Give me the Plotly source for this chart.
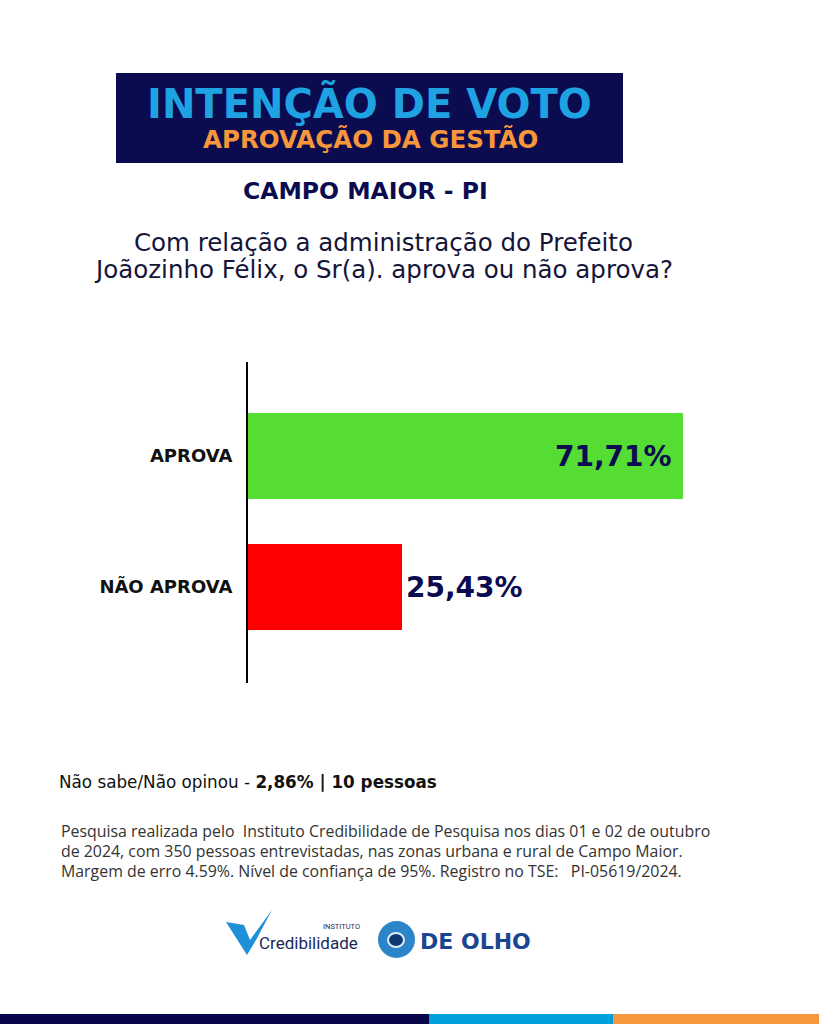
import plotly.graph_objects as go

W, H = 819, 1024

# ---- data ----
categories = ["APROVA", "NÃO APROVA"]
values = [71.71, 25.43]
value_labels = ["71,71%", "25,43%"]
bar_colors = ["#55dd33", "#ff0000"]

title_main = "INTENÇÃO DE VOTO"
title_sub = "APROVAÇÃO DA GESTÃO"
place = "CAMPO MAIOR - PI"
question = ["Com relação a administração do Prefeito", "Joãozinho Félix, o Sr(a). aprova ou não aprova?"]
no_opinion = "Não sabe/Não opinou - <b>2,86% | 10 pessoas</b>"
footer_lines = [
    "Pesquisa realizada pelo  Instituto Credibilidade de Pesquisa nos dias 01 e 02 de outubro",
    "de 2024, com 350 pessoas entrevistadas, nas zonas urbana e rural de Campo Maior.",
    "Margem de erro 4.59%. Nível de confiança de 95%. Registro no TSE:   PI-05619/2024.",
]

NAVY = "#0b0b50"
FONT = "DejaVu Sans"


def px(x):
    return x / W


def py(y):
    return 1 - y / H


fig = go.Figure()
fig.add_trace(go.Bar(
    y=categories, x=values, orientation="h",
    marker=dict(color=bar_colors, line=dict(width=0)),
    width=0.664, hoverinfo="skip",
))

annotations = []
# value labels
for cat, v, lab in zip(categories, values, value_labels):
    inside = v > 50
    annotations.append(dict(
        x=v, y=cat, xref="x", yref="y", text=f"<b>{lab}</b>", showarrow=False,
        xanchor="right" if inside else "left", xshift=-9 if inside else 2,
        font=dict(family=FONT, size=28, color=NAVY),
    ))

# title box texts
annotations += [
    dict(x=px(369), y=py(103), xref="paper", yref="paper", text=f"<b>{title_main}</b>", showarrow=False,
         font=dict(family=FONT, size=40, color="#1fa2e2"), xanchor="center", yanchor="middle"),
    dict(x=px(370), y=py(139), xref="paper", yref="paper", text=f"<b>{title_sub}</b>", showarrow=False,
         font=dict(family=FONT, size=24.5, color="#f7963a"), xanchor="center", yanchor="middle"),
    dict(x=px(365), y=py(191), xref="paper", yref="paper", text=f"<b>{place}</b>", showarrow=False,
         font=dict(family=FONT, size=23.5, color=NAVY), xanchor="center", yanchor="middle"),
    dict(x=px(383), y=py(242), xref="paper", yref="paper", text=question[0], showarrow=False,
         font=dict(family=FONT, size=24.5, color="#15153a"), xanchor="center", yanchor="middle"),
    dict(x=px(383), y=py(269), xref="paper", yref="paper", text=question[1], showarrow=False,
         font=dict(family=FONT, size=24.5, color="#15153a"), xanchor="center", yanchor="middle"),
    dict(x=px(57), y=py(782), xref="paper", yref="paper", text=no_opinion, showarrow=False,
         font=dict(family=FONT, size=16.8, color="#111111"), xanchor="left", yanchor="middle"),
]
for i, line in enumerate(footer_lines):
    annotations.append(dict(x=px(59), y=py(831 + 20 * i), xref="paper", yref="paper", text=line,
                            showarrow=False, font=dict(family="Open Sans", size=15.9, color="#333333"),
                            xanchor="left", yanchor="middle"))

# logos (text-based approximations)
annotations += [
    dict(x=px(257), y=py(943), xref="paper", yref="paper", text="Credibilidade", showarrow=False,
         font=dict(family="Roboto", size=17, color="#1b2a5a"), xanchor="left", yanchor="middle"),
    dict(x=px(362), y=py(926), xref="paper", yref="paper", text="INSTITUTO", showarrow=False,
         font=dict(family="Roboto", size=7.5, color="#1b2a5a"), xanchor="right", yanchor="middle"),
    dict(x=px(418), y=py(941), xref="paper", yref="paper", text="<b>DE OLHO</b>", showarrow=False,
         font=dict(family=FONT, size=22, color="#1a4590"), xanchor="left", yanchor="middle"),
]

shapes = [
    # title box
    dict(type="rect", xref="paper", yref="paper", x0=px(116), x1=px(623), y0=py(163), y1=py(73),
         fillcolor=NAVY, line=dict(width=0), layer="below"),
    # bottom stripe
    dict(type="rect", xref="paper", yref="paper", x0=0, x1=px(429), y0=0, y1=py(1014),
         fillcolor="#07074a", line=dict(width=0)),
    dict(type="rect", xref="paper", yref="paper", x0=px(429), x1=px(613), y0=0, y1=py(1014),
         fillcolor="#00a0dc", line=dict(width=0)),
    dict(type="rect", xref="paper", yref="paper", x0=px(613), x1=1, y0=0, y1=py(1014),
         fillcolor="#f7963a", line=dict(width=0)),
    # check mark of Credibilidade logo
    dict(type="path", xref="paper", yref="paper",
         path=(f"M {px(226)},{py(922)} L {px(244)},{py(925)} L {px(250)},{py(940)} "
               f"L {px(272)},{py(910)} L {px(256)},{py(940)} L {px(247)},{py(955)} Z"),
         fillcolor="#1f8fd8", line=dict(width=0)),
    # DE OLHO icon
    dict(type="circle", xref="paper", yref="paper", x0=px(378), x1=px(415), y0=py(958), y1=py(921),
         fillcolor="#2a86c9", line=dict(width=0)),
    dict(type="circle", xref="paper", yref="paper", x0=px(388), x1=px(404), y0=py(947), y1=py(933),
         fillcolor="#0e3a73", line=dict(color="#dfeaf5", width=2)),
]

ylo, yhi = 1 + (683 - 587) / 131, 0 - (456 - 362) / 131

fig.update_layout(
    width=W, height=H,
    margin=dict(l=0, r=0, t=0, b=0),
    paper_bgcolor="white", plot_bgcolor="rgba(0,0,0,0)",
    showlegend=False,
    bargap=0,
    xaxis=dict(domain=[px(248), px(794)], range=[0, 90], visible=False, fixedrange=True),
    yaxis=dict(domain=[py(683), py(362)], range=[ylo, yhi], showline=True, linecolor="black",
               linewidth=2, showgrid=False, zeroline=False, ticks="outside", ticklen=10,
               tickcolor="rgba(0,0,0,0)",
               tickfont=dict(family=FONT, size=18, color="#111111"),
               tickvals=categories, ticktext=[f"<b>{c}</b>" for c in categories], fixedrange=True),
    annotations=annotations,
    shapes=shapes,
)

fig.write_html("out.html")
